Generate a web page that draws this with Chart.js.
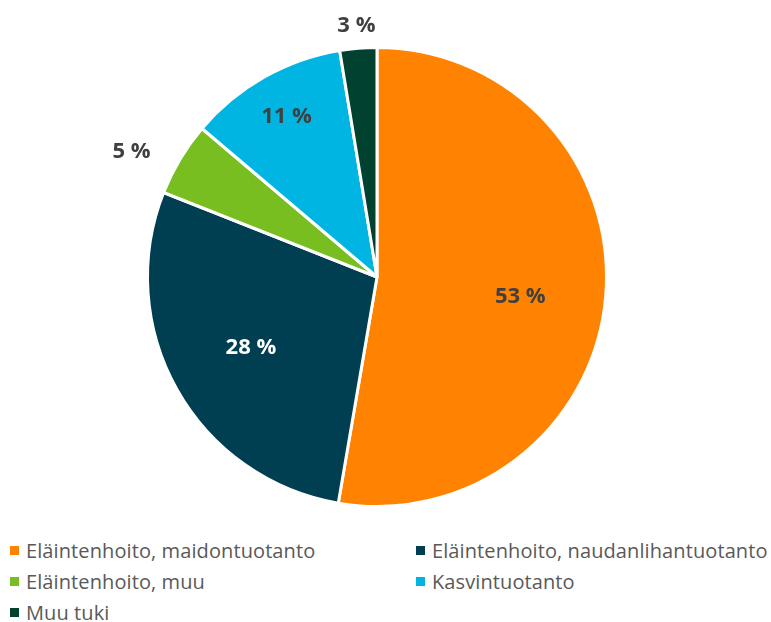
<!DOCTYPE html>
<html>
<head>
<meta charset="utf-8">
<script src="https://cdn.jsdelivr.net/npm/chart.js@4/dist/chart.umd.min.js"></script>
<style>
  html, body { margin: 0; padding: 0; background: #fff; }
  body { width: 771px; height: 622px; overflow: hidden; font-family: 'Open Sans', sans-serif; }
  #wrap { position: relative; width: 771px; height: 528px; }
  #legend { position: absolute; top: 537px; left: 10px; width: 760px; }
  .item { position: absolute; display: flex; align-items: center; font-size: 20px; color: #595959; white-space: nowrap; letter-spacing: 0.1px; }
  .item span.box { width: 9px; height: 9px; margin-right: 7px; display: inline-block; }
</style>
</head>
<body>
<div id="wrap"><canvas id="pie"></canvas></div>
<div id="legend"></div>
<script>
/* --- DATA --- */
const categories = ['Eläintenhoito, maidontuotanto', 'Eläintenhoito, naudanlihantuotanto', 'Eläintenhoito, muu', 'Kasvintuotanto', 'Muu tuki'];
const shares = [52.7, 28.3, 5.2, 11.2, 2.6];
const sliceColors = ['#FF8200', '#003E51', '#78BE20', '#00B5E2', '#00422F'];

/* label placement: fraction of radius, angle nudge (deg), text color */
const labelRadius = [0.63, 0.63, 1.2, 0.8, 1.1];
const labelNudge = [3, 0, -4, 0, 0];
const labelColors = ['#404040', '#ffffff', '#404040', '#404040', '#404040'];

const pctLabels = {
    id: 'pctLabels',
    afterDatasetsDraw(chart) {
        const ctx = chart.ctx;
        const meta = chart.getDatasetMeta(0);
        ctx.save();
        ctx.font = "bold 22px 'Open Sans', sans-serif";
        ctx.textAlign = 'center';
        ctx.textBaseline = 'middle';
        meta.data.forEach((arc, i) => {
            const p = arc.getProps(['x', 'y', 'startAngle', 'endAngle', 'outerRadius']);
            const mid = (p.startAngle + p.endAngle) / 2 + labelNudge[i] * Math.PI / 180;
            const r = p.outerRadius * labelRadius[i];
            ctx.fillStyle = labelColors[i];
            ctx.fillText(Math.round(shares[i]) + ' %', p.x + Math.cos(mid) * r, p.y + Math.sin(mid) * r);
        });
        ctx.restore();
    }
};

new Chart(document.getElementById('pie'), {
    type: 'pie',
    data: {
        labels: categories,
        datasets: [{
            data: shares,
            backgroundColor: sliceColors,
            borderColor: '#ffffff',
            borderWidth: 3
        }]
    },
    options: {
        responsive: true,
        maintainAspectRatio: false,
        animation: false,
        layout: { padding: { top: 46, bottom: 20, left: 0, right: 17 } },
        plugins: { legend: { display: false }, tooltip: { enabled: false } }
    },
    plugins: [pctLabels]
});

// legend, two columns
const legend = document.getElementById('legend');
categories.forEach((name, i) => {
    const el = document.createElement('div');
    el.className = 'item';
    el.style.left = (i % 2 ? 406 : 0) + 'px';
    el.style.top = (Math.floor(i / 2) * 31) + 'px';
    el.innerHTML = `<span class="box" style="background:${sliceColors[i]}"></span>${name}`;
    legend.appendChild(el);
});
</script>
</body>
</html>
